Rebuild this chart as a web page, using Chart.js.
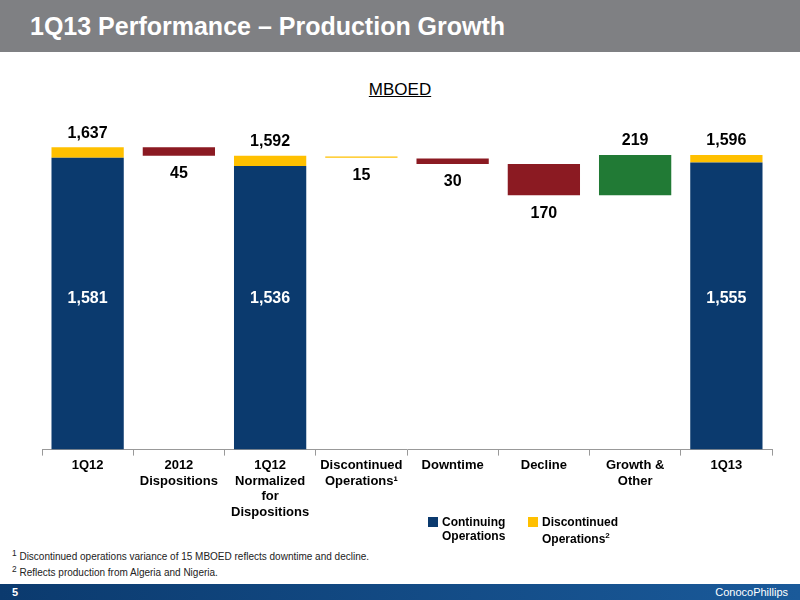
<!DOCTYPE html>
<html><head><meta charset="utf-8">
<script src="https://cdn.jsdelivr.net/npm/chart.js@4"></script>
<style>
body{margin:0;width:800px;height:600px;position:relative;font-family:"Liberation Sans",Arial,sans-serif;background:#fff;overflow:hidden}
#hdr{position:absolute;left:0;top:0;width:800px;height:52px;background:#7f8083;color:#fff;font-weight:bold;font-size:25px;line-height:52px;padding-left:30px;box-sizing:border-box}
#unit{position:absolute;top:80px;width:800px;text-align:center;font-size:17px;text-decoration:underline;color:#000}
#wrap{position:absolute;left:0;top:60px;width:800px;height:480px}
.lg{position:absolute;font-size:12px;font-weight:bold;line-height:14px}
.sq{position:absolute;width:10px;height:10px}
.fn{position:absolute;left:12px;font-size:10px;color:#222}
#ftr{position:absolute;left:0;top:584px;width:800px;height:16px;background:linear-gradient(90deg,#0b3a6e,#1a5a9a);color:#fff;font-size:11px;font-weight:bold;padding-left:12px;box-sizing:border-box;line-height:16px}
</style></head><body>
<div id="hdr">1Q13 Performance – Production Growth</div>
<div id="unit">MBOED</div>
<div id="wrap"><canvas id="c"></canvas></div>
<div class="sq" style="left:428px;top:517px;background:#0b3a6e"></div>
<div class="lg" style="left:442px;top:515px">Continuing<br>Operations</div>
<div class="sq" style="left:528px;top:517px;background:#ffc000"></div>
<div class="lg" style="left:542px;top:515px">Discontinued<br>Operations<sup style="font-size:8px">2</sup></div>
<div class="fn" style="top:548px"><sup>1</sup> Discontinued operations variance of 15 MBOED reflects downtime and decline.</div>
<div class="fn" style="top:564px"><sup>2</sup> Reflects production from Algeria and Nigeria.</div>
<div id="ftr">5<span style="position:absolute;right:12px;font-weight:normal">ConocoPhillips</span></div>
<script>
const categories=[['1Q12'],['2012','Dispositions'],['1Q12','Normalized','for','Dispositions'],['Discontinued','Operations¹'],['Downtime'],['Decline'],['Growth &','Other'],['1Q13']];
const continuing=[[0,1581],null,[0,1536],null,null,null,null,[0,1555]];
const discontinued=[[1581,1637],null,[1536,1592],[1580,1587],null,null,null,[1555,1596]];
const decreases=[null,[1592,1637],null,null,[1547,1577],[1377,1547],null,null];
const increases=[null,null,null,null,null,null,[1377,1596],null];
const totals=[1637,null,1592,null,null,null,null,1596];
const inner=['1,581',null,'1,536',null,null,null,null,'1,555'];
const deltaBelow=[null,'45',null,'15','30','170',null,null];
const deltaAbove=[null,null,null,null,null,null,'219',null];
const labelPlugin={id:'lbl',afterDatasetsDraw(ch){
  const c=ch.ctx,x=ch.scales.x,y=ch.scales.y;
  c.save();c.font='bold 16px "Liberation Sans", Arial';c.textAlign='center';
  for(let i=0;i<categories.length;i++){
    const px=x.getPixelForValue(i);
    if(totals[i]!=null){c.fillStyle='#000';c.textBaseline='bottom';c.fillText(totals[i].toLocaleString('en-US'),px,y.getPixelForValue(totals[i])-6);}
    if(inner[i]){c.fillStyle='#fff';c.textBaseline='middle';c.fillText(inner[i],px,y.getPixelForValue(820));}
    if(deltaBelow[i]){const lo=Math.min(...(decreases[i]||discontinued[i]));c.fillStyle='#000';c.textBaseline='top';c.fillText(deltaBelow[i],px,y.getPixelForValue(lo)+10);}
    if(deltaAbove[i]){c.fillStyle='#000';c.textBaseline='bottom';c.fillText(deltaAbove[i],px,y.getPixelForValue(increases[i][1])-6);}
  }
  c.restore();}};
new Chart(document.getElementById('c'),{
  type:'bar',
  data:{labels:categories,datasets:[
    {data:continuing,backgroundColor:'#0b3a6e'},
    {data:discontinued,backgroundColor:'#ffc000'},
    {data:decreases,backgroundColor:'#8b1a22'},
    {data:increases,backgroundColor:'#217a35'}]},
  options:{responsive:true,maintainAspectRatio:false,animation:false,
    datasets:{bar:{grouped:false,categoryPercentage:0.9,barPercentage:0.88}},
    layout:{padding:{left:42,right:28,top:0,bottom:18}},
    plugins:{legend:{display:false},tooltip:{enabled:false}},
    scales:{
      x:{grid:{display:true,drawOnChartArea:false,offset:true,tickLength:6,color:'#999'},border:{color:'#999'},
        ticks:{color:'#000',font:{family:'"Liberation Sans", Arial',size:13,weight:'bold'},maxRotation:0,autoSkip:false,padding:2}},
      y:{display:false,min:0,max:2110}}},
  plugins:[labelPlugin]});
</script>
</body></html>
